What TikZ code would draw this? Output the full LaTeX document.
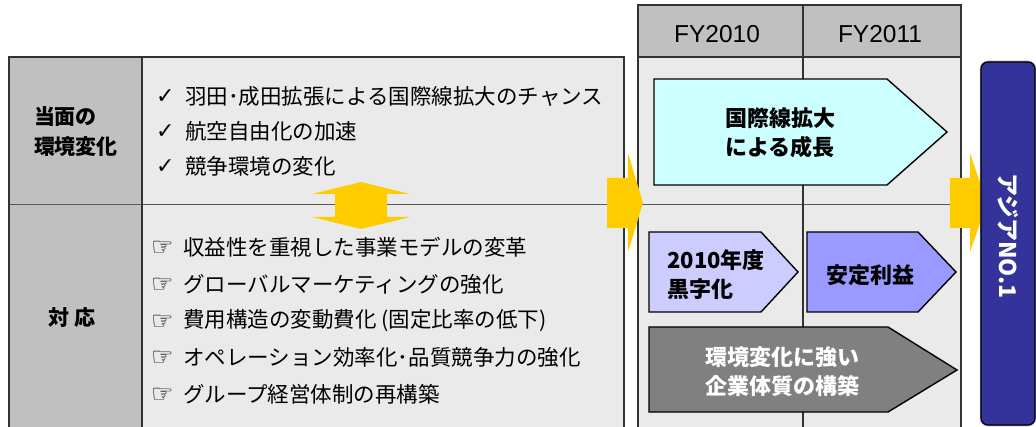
\documentclass[tikz,border=0pt]{standalone}
\usepackage{fontspec}
\setmainfont{Liberation Sans}
\newfontfamily\jp{Noto Sans CJK JP}
\newfontfamily\symf{DejaVu Sans}
\definecolor{lightg}{HTML}{EAEAEA}
\definecolor{midg}{HTML}{C0C0C0}
\definecolor{yel}{HTML}{FFCC00}
\definecolor{navy}{HTML}{333399}
\definecolor{cyanbox}{HTML}{CCFFFF}
\definecolor{lilac}{HTML}{CCCCFF}
\definecolor{violet}{HTML}{9999FF}
\definecolor{darkbox}{HTML}{808080}
\tikzset{
  tab/.style={draw=black!80, line width=1.3pt},
  sep/.style={draw=black!65, line width=1pt},
  arrowbox/.style={draw=black, line width=1.4pt},
  yarrow/.style={fill=yel},
  item/.style={anchor=west, inner sep=0pt, font={\jp\fontsize{21.5}{25}\selectfont}},
  chk/.style={anchor=west, inner sep=0pt, font={\symf\fontsize{22}{26}\selectfont}},
  hand/.style={anchor=west, inner sep=0pt, font={\symf\fontsize{25}{28}\selectfont}},
  head/.style={inner sep=0pt, font={\jp\bfseries\fontsize{21}{30}\selectfont}},
  boxtxt/.style={inner sep=0pt, font={\jp\bfseries\fontsize{22}{29}\selectfont}},
  fy/.style={inner sep=0pt, font={\fontsize{24.5}{28}\selectfont}},
}
\begin{document}
\begin{tikzpicture}[x=1pt,y=-1pt]
\clip (0,0) rectangle (1036,427);
\fill[white] (0,0) rectangle (1036,427);
% left table
\fill[lightg] (142,57) rectangle (624,440);
\fill[midg] (9,57) rectangle (142,440);
\draw[sep] (9,205) -- (624,205);
\draw[tab] (9,57) rectangle (624,440);
\draw[tab] (142,57) -- (142,440);
% right table
\fill[midg] (638,5) rectangle (961,57);
\fill[lightg] (638,57) rectangle (961,440);
\draw[sep] (638,205) -- (961,205);
\draw[tab] (638,57) -- (961,57);
\draw[tab] (803,5) -- (803,440);
\draw[tab] (638,5) rectangle (961,440);
\node[fy] (fy10) at (717,34) {FY2010};
\node[fy] (fy11) at (880,34) {FY2011};
% row headers
\node[head, align=left] (env) at (76,132) {当面の\\環境変化};
\node[head] (resp) at (72,318) {対 応};
% checklist
\node[chk] (s1) at (156,97) {✓};
\node[item] (c1) at (185,96) {羽田･成田拡張による国際線拡大のチャンス};
\node[chk] (s2) at (156,132) {✓};
\node[item] (c2) at (185,131) {航空自由化の加速};
\node[chk] (s3) at (156,167) {✓};
\node[item] (c3) at (185,166) {競争環境の変化};
% hand list
\node[hand] (h1) at (151,248) {☞};
\node[item] (r1) at (183,247) {収益性を重視した事業モデルの変革};
\node[hand] (h2) at (151,285) {☞};
\node[item] (r2) at (183,284) {グローバルマーケティングの強化};
\node[hand] (h3) at (151,322) {☞};
\node[item] (r3) at (183,321) {費用構造の変動費化 (固定比率の低下)};
\node[hand] (h4) at (151,358) {☞};
\node[item] (r4) at (183,357) {オペレーション効率化･品質競争力の強化};
\node[hand] (h5) at (151,395) {☞};
\node[item] (r5) at (183,394) {グループ経営体制の再構築};
% double arrow
\fill[yarrow] (361,182) -- (410,194) -- (387,194) -- (387,217) -- (410,217) -- (361,229)
  -- (312,217) -- (335,217) -- (335,194) -- (312,194) -- cycle;
% yellow arrows
\fill[yarrow] (607,178) -- (628,178) -- (628,153) -- (643,203) -- (628,252) -- (628,228) -- (607,228) -- cycle;
\fill[yarrow] (950,178) -- (970,178) -- (970,153) -- (987,203) -- (970,252) -- (970,228) -- (950,228) -- cycle;
% pentagon boxes
\draw[arrowbox, fill=cyanbox] (654,79) -- (887,79) -- (947,132) -- (887,185) -- (654,185) -- cycle;
\node[boxtxt, align=left] (intl) at (780,133) {国際線拡大\\による成長};
\draw[arrowbox, fill=lilac] (649,232) -- (761,232) -- (798,272) -- (761,312) -- (649,312) -- cycle;
\node[boxtxt, align=left, anchor=west] (black) at (667,275) {2010年度\\黒字化};
\draw[arrowbox, fill=violet] (807,232) -- (918,232) -- (956,272) -- (918,312) -- (807,312) -- cycle;
\node[boxtxt] (stable) at (870,275) {安定利益};
\draw[arrowbox, fill=darkbox] (649,327) -- (888,327) -- (957,370) -- (888,412) -- (649,412) -- cycle;
\node[boxtxt, align=center, text=white] (robust) at (782,372) {環境変化に強い\\企業体質の構築};
% goal box
\draw[gray!70, line width=2.5pt, rounded corners=7pt] (981,62) rectangle (1035,425);
\draw[black, line width=1.2pt, fill=navy, rounded corners=7pt] (981,62) rectangle (1035,425);
\node[inner sep=0pt, rotate=-90, text=white, font={\jp\bfseries\fontsize{23}{27}\selectfont}] (asia) at (1008,236) {アジアNO.1};
\end{tikzpicture}
\end{document}
